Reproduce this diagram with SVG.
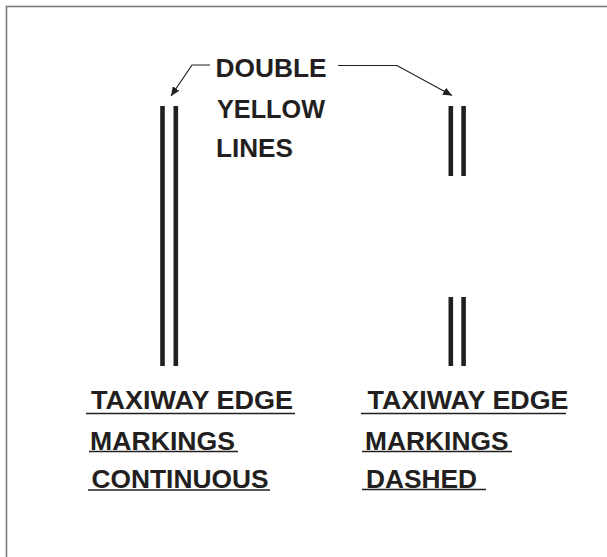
<svg xmlns="http://www.w3.org/2000/svg" width="607" height="557" viewBox="0 0 607 557">
<style>
.lbl{font-family:"Liberation Sans",Arial,sans-serif;font-weight:bold;font-size:26.5px;fill:#231f20}
.mk{stroke:#231f20;stroke-width:4.6;fill:none}
.ul{stroke:#231f20;stroke-width:1.6}
.ld{stroke:#231f20;stroke-width:1.2;fill:none}
</style>
<defs>
<marker id="ah" markerUnits="userSpaceOnUse" markerWidth="10" markerHeight="8" refX="9" refY="4" orient="auto">
<path d="M0,0 L9,4 L0,8 Z" fill="#231f20"/>
</marker>
</defs>
<rect width="607" height="557" fill="#fff"/>
<rect x="6.5" y="6.5" width="700" height="700" fill="none" stroke="#7a7a7a" stroke-width="1.6"/>
<g id="continuous-lines">
<line class="mk" x1="162.5" y1="106" x2="162.5" y2="366"/>
<line class="mk" x1="175.8" y1="106" x2="175.8" y2="366"/>
</g>
<g id="dashed-lines">
<line class="mk" x1="450.8" y1="106" x2="450.8" y2="176"/>
<line class="mk" x1="463.6" y1="106" x2="463.6" y2="176"/>
<line class="mk" x1="450.8" y1="297" x2="450.8" y2="366"/>
<line class="mk" x1="463.6" y1="297" x2="463.6" y2="366"/>
</g>
<g id="title">
<text class="lbl" x="215.5" y="77" textLength="111" lengthAdjust="spacingAndGlyphs">DOUBLE</text>
<text class="lbl" x="217" y="118" textLength="108" lengthAdjust="spacingAndGlyphs">YELLOW</text>
<text class="lbl" x="216" y="157" textLength="77" lengthAdjust="spacingAndGlyphs">LINES</text>
</g>
<g id="connectors">
<polyline class="ld" points="210,65 192,65 171,96" marker-end="url(#ah)"/>
<polyline class="ld" points="338,65.5 397,65.5 452,95.5" marker-end="url(#ah)"/>
</g>
<g id="label-continuous">
<text class="lbl" x="91" y="409" textLength="202" lengthAdjust="spacingAndGlyphs">TAXIWAY EDGE</text>
<line class="ul" x1="86" y1="413.5" x2="295" y2="413.5"/>
<text class="lbl" x="90" y="450" textLength="145" lengthAdjust="spacingAndGlyphs">MARKINGS</text>
<line class="ul" x1="89" y1="451.5" x2="238" y2="451.5"/>
<text class="lbl" x="91.5" y="488" textLength="177" lengthAdjust="spacingAndGlyphs">CONTINUOUS</text>
<line class="ul" x1="88" y1="490" x2="270" y2="490"/>
</g>
<g id="label-dashed">
<text class="lbl" x="367.5" y="409" textLength="201" lengthAdjust="spacingAndGlyphs">TAXIWAY EDGE</text>
<line class="ul" x1="361" y1="413.5" x2="566" y2="413.5"/>
<text class="lbl" x="365" y="450" textLength="143.5" lengthAdjust="spacingAndGlyphs">MARKINGS</text>
<line class="ul" x1="362" y1="451.5" x2="512" y2="451.5"/>
<text class="lbl" x="366" y="488" textLength="111" lengthAdjust="spacingAndGlyphs">DASHED</text>
<line class="ul" x1="362" y1="489.5" x2="486" y2="489.5"/>
</g>
</svg>
